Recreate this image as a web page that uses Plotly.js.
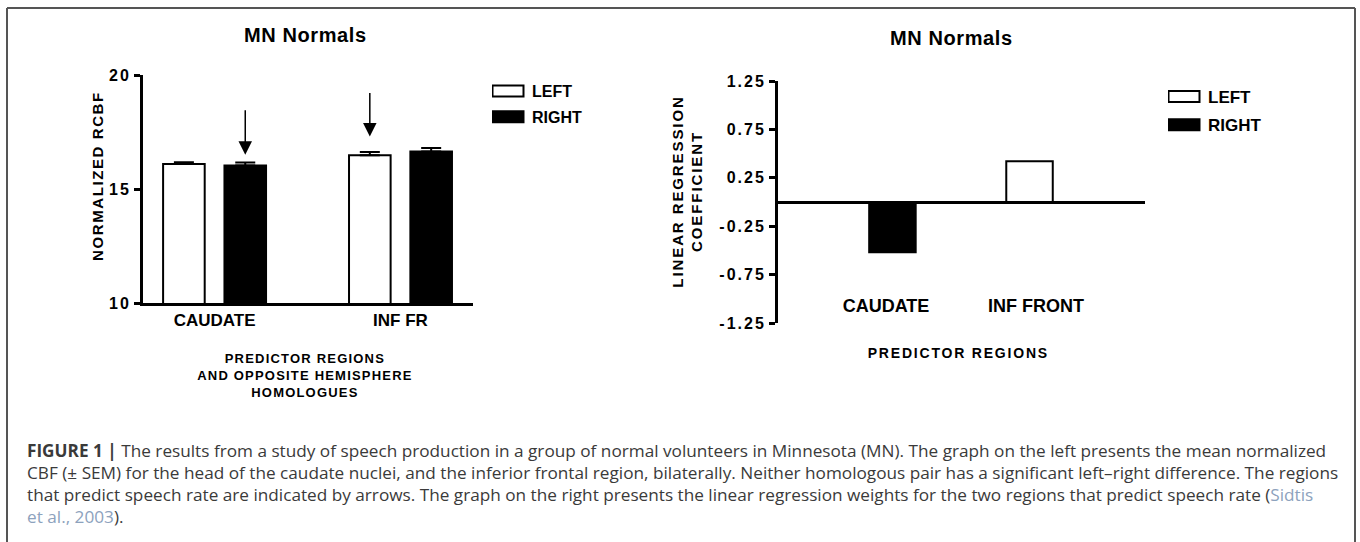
<!DOCTYPE html>
<html>
<head>
<meta charset="utf-8">
<script src="https://cdn.plot.ly/plotly-3.0.1.min.js"></script>
<style>
  html, body { margin: 0; padding: 0; background: #ffffff; }
  #chart { width: 1360px; height: 542px; }
  /* GraphPad-style loose letter spacing */
  #chart g.ytick text, #chart g.y2tick text { letter-spacing: 2px; }
  #chart g.annotation[data-index="0"] text.annotation-text,
  #chart g.annotation[data-index="1"] text.annotation-text { letter-spacing: 0.6px; }
  #chart g.annotation[data-index="2"] text.annotation-text { letter-spacing: 1.6px; }
  #chart g.annotation[data-index="3"] text.annotation-text { letter-spacing: 1.9px; }
  #chart g.annotation[data-index="4"] text.annotation-text { letter-spacing: 1.2px; }
  #chart g.annotation[data-index="5"] text.annotation-text { letter-spacing: 1.8px; }
</style>
</head>
<body>
<div id="chart"></div>
<script>
// ---------------- data ----------------
const leftCategories = ['CAUDATE', 'INF FR'];
const leftMeanLEFT = [16.10, 16.48];
const leftMeanRIGHT = [16.03, 16.64];
const leftSemLEFT = [0.07, 0.14];
const leftSemRIGHT = [0.13, 0.16];
const leftTickVals = [10, 15, 20];
const leftTickText = ['10', '15', '20'];

const rightCategories = ['CAUDATE', 'INF FRONT'];
const rightCoefLEFT = [null, 0.42];
const rightCoefRIGHT = [-0.52, null];
const rightTickVals = [1.25, 0.75, 0.25, -0.25, -0.75, -1.25];
const rightTickText = ['1.25', '0.75', '0.25', '-0.25', '-0.75', '-1.25'];

const seriesNames = ['LEFT', 'RIGHT'];

const captionLines = [
  '<b>FIGURE 1 |</b> The results from a study of speech production in a group of normal volunteers in Minnesota (MN). The graph on the left presents the mean normalized',
  'CBF (± SEM) for the head of the caudate nuclei, and the inferior frontal region, bilaterally. Neither homologous pair has a significant left–right difference. The regions',
  'that predict speech rate are indicated by arrows. The graph on the right presents the linear regression weights for the two regions that predict speech rate (<span style="color:#8da2bd">Sidtis</span>',
  '<span style="color:#8da2bd">et al., 2003</span>).'
];

// ---------------- layout helpers ----------------
const W = 1360, H = 542;
const px = v => v / W;
const py = v => 1 - v / H;
const FONT = 'Liberation Sans, Arial, sans-serif';
const bold = (size) => ({ family: FONT, size: size, color: '#000', weight: 700 });

const bargap = 0.34;
const slot = (1 - bargap) / 2;

const traces = [
  {
    type: 'bar', name: seriesNames[0], x: leftCategories, y: leftMeanLEFT,
    xaxis: 'x', yaxis: 'y', legend: 'legend', legendgroup: 'a',
    marker: { color: '#ffffff', line: { color: '#000', width: 2 } },
    error_y: { type: 'data', symmetric: false, array: leftSemLEFT, arrayminus: leftSemLEFT.map(() => 0),
               color: '#000', thickness: 2, width: 10 },
    hoverinfo: 'x+y'
  },
  {
    type: 'bar', name: seriesNames[1], x: leftCategories, y: leftMeanRIGHT,
    xaxis: 'x', yaxis: 'y', legend: 'legend', legendgroup: 'b',
    marker: { color: '#000000', line: { color: '#000', width: 2 } },
    error_y: { type: 'data', symmetric: false, array: leftSemRIGHT, arrayminus: leftSemRIGHT.map(() => 0),
               color: '#000', thickness: 2, width: 10 },
    hoverinfo: 'x+y'
  },
  {
    type: 'bar', name: seriesNames[0], x: rightCategories, y: rightCoefLEFT,
    xaxis: 'x2', yaxis: 'y2', legend: 'legend2', legendgroup: 'c',
    width: 0.31, offset: -0.198,
    marker: { color: '#ffffff', line: { color: '#000', width: 2 } },
    hoverinfo: 'x+y'
  },
  {
    type: 'bar', name: seriesNames[1], x: rightCategories, y: rightCoefRIGHT,
    xaxis: 'x2', yaxis: 'y2', legend: 'legend2', legendgroup: 'd',
    width: 0.31, offset: -0.112,
    marker: { color: '#000000', line: { color: '#000', width: 2 } },
    hoverinfo: 'x+y'
  }
];

const annotations = [
  { text: 'MN Normals', xref: 'paper', yref: 'paper', x: px(305), y: py(35), showarrow: false,
    xanchor: 'center', yanchor: 'middle', font: bold(20) },
  { text: 'MN Normals', xref: 'paper', yref: 'paper', x: px(951), y: py(38), showarrow: false,
    xanchor: 'center', yanchor: 'middle', font: bold(20) },
  { text: 'NORMALIZED RCBF', xref: 'paper', yref: 'paper', x: px(97), y: py(176), textangle: -90,
    showarrow: false, xanchor: 'center', yanchor: 'middle', font: bold(15) },
  { text: 'LINEAR REGRESSION<br>COEFFICIENT', xref: 'paper', yref: 'paper', x: px(686.5), y: py(192), textangle: -90,
    showarrow: false, xanchor: 'center', yanchor: 'middle', font: bold(15) },
  { text: 'PREDICTOR REGIONS<br>AND OPPOSITE HEMISPHERE<br>HOMOLOGUES', xref: 'paper', yref: 'paper',
    x: px(305), y: py(375), showarrow: false, xanchor: 'center', yanchor: 'middle', font: bold(13) },
  { text: 'PREDICTOR REGIONS', xref: 'paper', yref: 'paper', x: px(958), y: py(353), showarrow: false,
    xanchor: 'center', yanchor: 'middle', font: bold(14) },
  // arrows marking the predictor regions
  { xref: 'x', yref: 'y', x: 0 + slot / 2, y: 16.5, ax: 0, ay: -46, text: '', showarrow: true,
    arrowhead: 2, arrowsize: 1.8, arrowwidth: 1.5, arrowcolor: '#000', standoff: 0 },
  { xref: 'x', yref: 'y', x: 1 - slot / 2, y: 17.3, ax: 0, ay: -45, text: '', showarrow: true,
    arrowhead: 2, arrowsize: 1.8, arrowwidth: 1.5, arrowcolor: '#000', standoff: 0 }
];

const captionY = [450, 472, 494, 516];
captionLines.forEach((t, i) => {
  annotations.push({ text: t, xref: 'paper', yref: 'paper', x: px(25), y: py(captionY[i]),
    xanchor: 'left', yanchor: 'middle', align: 'left', showarrow: false,
    font: { family: 'Open Sans, Liberation Sans, sans-serif', size: 17.2, color: '#3a3a3a' } });
});

const frameColor = '#555555';
const shapes = [
  { type: 'line', xref: 'paper', yref: 'paper', x0: px(7), x1: px(1355), y0: py(8), y1: py(8), line: { color: frameColor, width: 2 } },
  { type: 'line', xref: 'paper', yref: 'paper', x0: px(7), x1: px(7), y0: py(8), y1: 0, line: { color: frameColor, width: 2 } },
  { type: 'line', xref: 'paper', yref: 'paper', x0: px(1355), x1: px(1355), y0: py(8), y1: 0, line: { color: frameColor, width: 2 } }
];

const layout = {
  width: W, height: H,
  margin: { l: 0, r: 0, t: 0, b: 0 },
  paper_bgcolor: '#ffffff', plot_bgcolor: 'rgba(0,0,0,0)',
  barmode: 'group', bargap: bargap, bargroupgap: 0.322,
  font: { family: FONT, color: '#000' },
  xaxis: {
    domain: [px(143), px(473)], anchor: 'y', type: 'category',
    range: [-0.385, 1.39], showgrid: false, zeroline: false,
    showline: true, linecolor: '#000', linewidth: 3, ticks: '',
    tickfont: bold(17), fixedrange: true
  },
  yaxis: {
    domain: [py(303), py(75)], anchor: 'x', range: [10, 20],
    tickmode: 'array', tickvals: leftTickVals, ticktext: leftTickText,
    showgrid: false, zeroline: false, showline: true, linecolor: '#000', linewidth: 3,
    ticks: 'outside', ticklen: 6, tickwidth: 3, tickcolor: '#000',
    tickfont: bold(16), fixedrange: true
  },
  xaxis2: {
    domain: [px(778), px(1145)], anchor: 'free', position: py(293), type: 'category',
    range: [-0.72, 1.727], showgrid: false, zeroline: false, showline: false, ticks: '',
    tickfont: bold(18), fixedrange: true
  },
  yaxis2: {
    domain: [py(323), py(81)], anchor: 'x2', range: [-1.25, 1.25],
    tickmode: 'array', tickvals: rightTickVals, ticktext: rightTickText,
    showgrid: false, zeroline: true, zerolinecolor: '#000', zerolinewidth: 3,
    showline: true, linecolor: '#000', linewidth: 3,
    ticks: 'outside', ticklen: 6, tickwidth: 3, tickcolor: '#000',
    tickfont: bold(16), fixedrange: true
  },
  legend: {
    x: px(492), y: py(74), xanchor: 'left', yanchor: 'top',
    font: bold(16), bgcolor: 'rgba(0,0,0,0)', borderwidth: 0,
    traceorder: 'grouped', tracegroupgap: 2
  },
  legend2: {
    x: px(1168), y: py(79), xanchor: 'left', yanchor: 'top',
    font: bold(17), bgcolor: 'rgba(0,0,0,0)', borderwidth: 0,
    traceorder: 'grouped', tracegroupgap: 3
  },
  annotations: annotations,
  shapes: shapes,
  showlegend: true
};

// widen the legend swatches to the long rectangles of the original figure
function widenSwatches() {
  document.querySelectorAll('#chart g.legendpoints path').forEach(p => {
    p.setAttribute('d', 'M11.5,5.5H-19.5V-5.5H11.5Z');
  });
}

const gd = document.getElementById('chart');
Plotly.newPlot(gd, traces, layout, { displayModeBar: false, staticPlot: true }).then(() => {
  widenSwatches();
  gd.on('plotly_afterplot', widenSwatches);
  setTimeout(widenSwatches, 50);
});
</script>
</body>
</html>
